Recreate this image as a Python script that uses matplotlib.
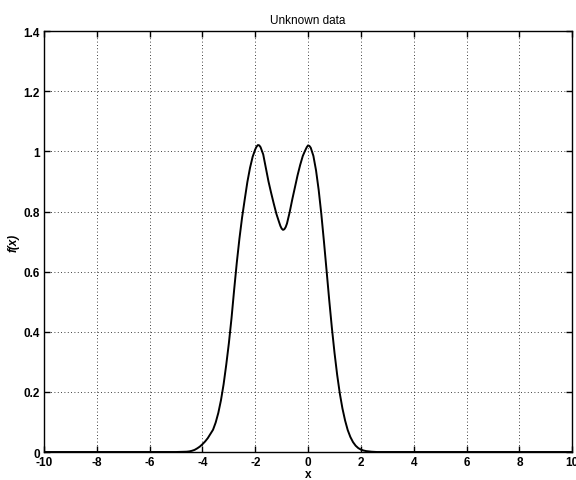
import matplotlib
matplotlib.use('Agg')
import matplotlib.pyplot as plt
from matplotlib.ticker import FormatStrFormatter

# curve values
x_vals = [-10.0, -5.0, -4.6, -4.5, -4.4, -4.3, -4.2, -4.1, -4.0, -3.9, -3.8, -3.7,
          -3.6, -3.5, -3.4, -3.3, -3.2, -3.1, -3.0, -2.9, -2.8, -2.7, -2.6, -2.5,
          -2.4, -2.3, -2.2, -2.1, -2.0, -1.95, -1.9, -1.85, -1.8, -1.7, -1.6, -1.5,
          -1.4, -1.3, -1.2, -1.1, -1.05, -1.0, -0.95, -0.9, -0.85, -0.8, -0.7, -0.6,
          -0.5, -0.4, -0.3, -0.2, -0.1, -0.05, 0.0, 0.05, 0.1, 0.2, 0.3, 0.4, 0.5,
          0.6, 0.7, 0.8, 0.9, 1.0, 1.1, 1.2, 1.3, 1.4, 1.5, 1.6, 1.7, 1.8, 1.9,
          2.0, 2.1, 2.2, 2.4, 2.6, 3.0, 10.0]
f_vals = [0.0, 0.0, 0.001, 0.002, 0.004, 0.007, 0.012, 0.018, 0.026, 0.035, 0.046, 0.060,
          0.074, 0.098, 0.130, 0.172, 0.225, 0.290, 0.362, 0.445, 0.540, 0.630, 0.710, 0.780,
          0.840, 0.898, 0.945, 0.982, 1.007, 1.016, 1.021, 1.020, 1.014, 0.990, 0.945, 0.900,
          0.862, 0.826, 0.792, 0.765, 0.752, 0.743, 0.739, 0.741, 0.748, 0.760, 0.797, 0.840,
          0.880, 0.920, 0.955, 0.985, 1.005, 1.014, 1.020, 1.018, 1.012, 0.985, 0.937, 0.872,
          0.792, 0.700, 0.603, 0.505, 0.413, 0.330, 0.257, 0.195, 0.145, 0.105, 0.073,
          0.050, 0.033, 0.021, 0.013, 0.008, 0.005, 0.003, 0.001, 0.0, 0.0, 0.0]

x_ticks = list(range(-10, 11, 2))
y_ticks = [0, 0.2, 0.4, 0.6, 0.8, 1.0, 1.2, 1.4]

plt.rcParams['font.family'] = ['Liberation Sans', 'DejaVu Sans']
plt.rcParams['axes.unicode_minus'] = False

fig = plt.figure(figsize=(5.76, 4.81), dpi=100)
ax = fig.add_axes([0.0764, 0.0582, 0.917, 0.875])

ax.plot(x_vals, f_vals, color='black', linewidth=1.4)

ax.set_xlim(-10, 10)
ax.set_ylim(0, 1.4)
ax.set_xticks(x_ticks)
ax.set_yticks(y_ticks)
ax.yaxis.set_major_formatter(FormatStrFormatter('%g'))
ax.grid(True, linestyle=(0, (1, 3)), color='black', linewidth=0.6)

ax.tick_params(direction='in', length=4, width=1, top=True, right=True,
               labelsize=8.5, pad=3)
for lbl in ax.get_xticklabels() + ax.get_yticklabels():
    lbl.set_fontweight('bold')
for s in ax.spines.values():
    s.set_linewidth(1.0)

ax.set_title('Unknown data', fontsize=8.5, pad=6)
ax.set_xlabel('x', fontsize=8.5, fontweight='bold', labelpad=0)
ax.set_ylabel('f(x)', fontsize=8.5, fontweight='bold', style='italic', labelpad=3)

fig.savefig('out.png', dpi=100)
